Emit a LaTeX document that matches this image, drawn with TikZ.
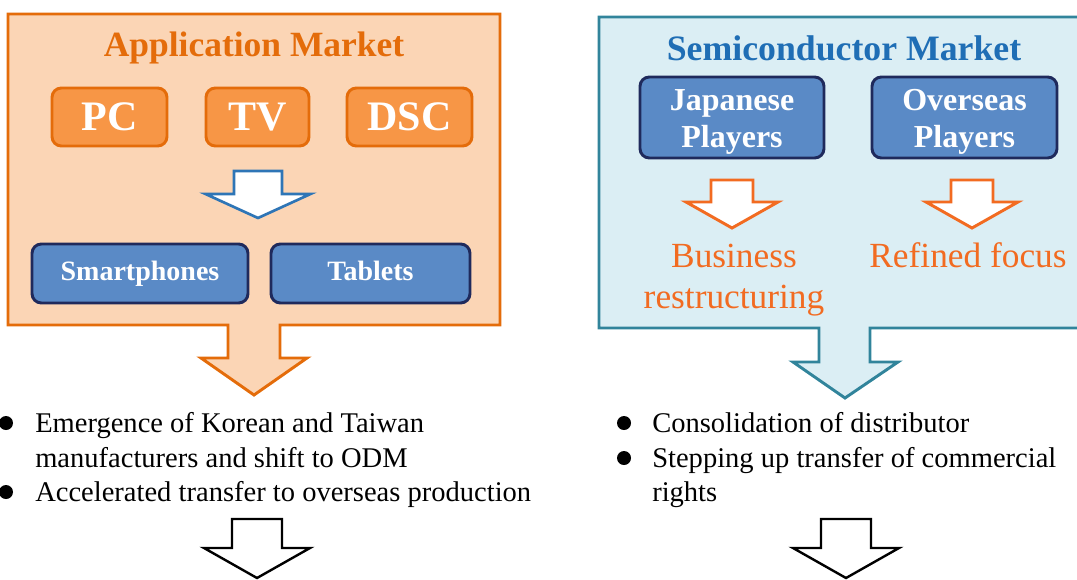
\documentclass[tikz,border=0pt]{standalone}
\usepackage{fontspec}
\setmainfont{Liberation Serif}
\definecolor{peach}{HTML}{FBD5B5}
\definecolor{oline}{HTML}{E46C0A}
\definecolor{ofill}{HTML}{F79646}
\definecolor{otext}{HTML}{F26B21}
\definecolor{bfill}{HTML}{5A8AC6}
\definecolor{navy}{HTML}{1F2A5C}
\definecolor{teal}{HTML}{31849B}
\definecolor{lblue}{HTML}{DBEEF4}
\definecolor{btitle}{HTML}{1F6EB5}
\definecolor{barrow}{HTML}{2E75B6}
\newcommand{\hollowarrow}[7]{% cx, top, shoulder, tip, halfshaft, halfhead, style
  \draw[#7] ({#1-#5},#2) -- ({#1+#5},#2) -- ({#1+#5},#3) -- ({#1+#6},#3) -- (#1,#4)
    -- ({#1-#6},#3) -- ({#1-#5},#3) -- cycle;}
\begin{document}
\begin{tikzpicture}[x=0.75pt,y=-0.75pt,
  obox/.style={draw=oline,fill=ofill,line width=2.2pt,rounded corners=7pt,text=white,
    font=\bfseries\fontsize{31.5}{34}\selectfont,minimum height=43.5pt,inner sep=0pt},
  bbox/.style={draw=navy,fill=bfill,line width=2.2pt,rounded corners=7pt,text=white,
    font=\bfseries\fontsize{21}{24}\selectfont,minimum height=44.25pt,inner sep=0pt,
    text height=2.6ex,text depth=0.3ex},
  pbox/.style={draw=navy,fill=bfill,line width=2.2pt,rounded corners=7pt,text=white,
    font=\bfseries\fontsize{24}{28}\selectfont,minimum height=60.75pt,minimum width=138pt,
    inner sep=0pt,align=center},
  bul/.style={anchor=base west,inner sep=0pt,font=\fontsize{21.4}{26}\selectfont},
  otxt/.style={anchor=base,inner sep=0pt,text=otext,font=\fontsize{26.5}{30}\selectfont},
  dot/.style={fill=black,circle,inner sep=0pt,minimum size=10.5pt}]
\useasboundingbox (0,0) rectangle (1077,579);

% left panel with attached arrow
\draw[draw=oline,fill=peach,line width=2.2pt,line join=miter]
  (8,14) -- (500,14) -- (500,325) -- (280,325) -- (280,358) -- (307,358) -- (254,395)
  -- (201,358) -- (228,358) -- (228,325) -- (8,325) -- cycle;
\node[anchor=base,inner sep=0pt,text=oline,font=\bfseries\fontsize{26.6}{30}\selectfont]
  (appt) at (254,56) {Application Market};
\node[obox,minimum width=86.25pt] (pc) at (109.5,117) {PC};
\node[obox,minimum width=77.25pt] (tv) at (257.5,117) {TV};
\node[obox,minimum width=93.75pt] (dsc) at (409.5,117) {DSC};
\hollowarrow{258}{171}{194}{218}{24}{52.5}{draw=barrow,fill=white,line width=2pt}
\node[bbox,minimum width=162pt] (sp) at (140,273.5) {Smartphones};
\node[bbox,minimum width=149.25pt] (tab) at (370.5,273.5) {Tablets};

% right panel with attached arrow
\draw[draw=teal,fill=lblue,line width=2.2pt,line join=miter]
  (1090,17) -- (599,17) -- (599,328) -- (819,328) -- (819,362) -- (793,362) -- (845,398)
  -- (898,362) -- (870,362) -- (870,328) -- (1090,328);
\node[anchor=base,inner sep=0pt,text=btitle,font=\bfseries\fontsize{26.8}{30}\selectfont]
  (semt) at (844,60) {Semiconductor Market};
\node[pbox] (jp) at (732,117.5) {\rule{0pt}{22pt}Japanese\\Players};
\node[pbox,minimum width=138.75pt] (ov) at (964.5,117.5) {\rule{0pt}{22pt}Overseas\\Players};
\hollowarrow{732}{180}{202}{228}{21}{46}{draw=otext,fill=white,line width=2.2pt}
\hollowarrow{972}{180}{202}{228}{21}{46}{draw=otext,fill=white,line width=2.2pt}
\node[otxt] (bus1) at (734,267) {Business};
\node[otxt] (bus2) at (734,308) {restructuring};
\node[otxt] (ref) at (968,267) {Refined focus};

% bullets left
\node[dot] (d1) at (6,423) {};
\node[bul] (l1) at (35,432) {Emergence of Korean and Taiwan};
\node[bul] (l2) at (35,467) {manufacturers and shift to ODM};
\node[dot] (d2) at (6,492) {};
\node[bul] (l3) at (35,501) {Accelerated transfer to overseas production};
% bullets right
\node[dot] (d3) at (624,423) {};
\node[bul] (r1) at (652,432) {Consolidation of distributor};
\node[dot] (d4) at (624,458) {};
\node[bul] (r2) at (652,467) {Stepping up transfer of commercial};
\node[bul] (r3) at (652,501) {rights};

% bottom arrows
\hollowarrow{257}{519}{548}{578}{25}{53}{draw=black,fill=white,line width=1.8pt}
\hollowarrow{846}{519}{548}{578}{25}{53}{draw=black,fill=white,line width=1.8pt}
\end{tikzpicture}
\end{document}
